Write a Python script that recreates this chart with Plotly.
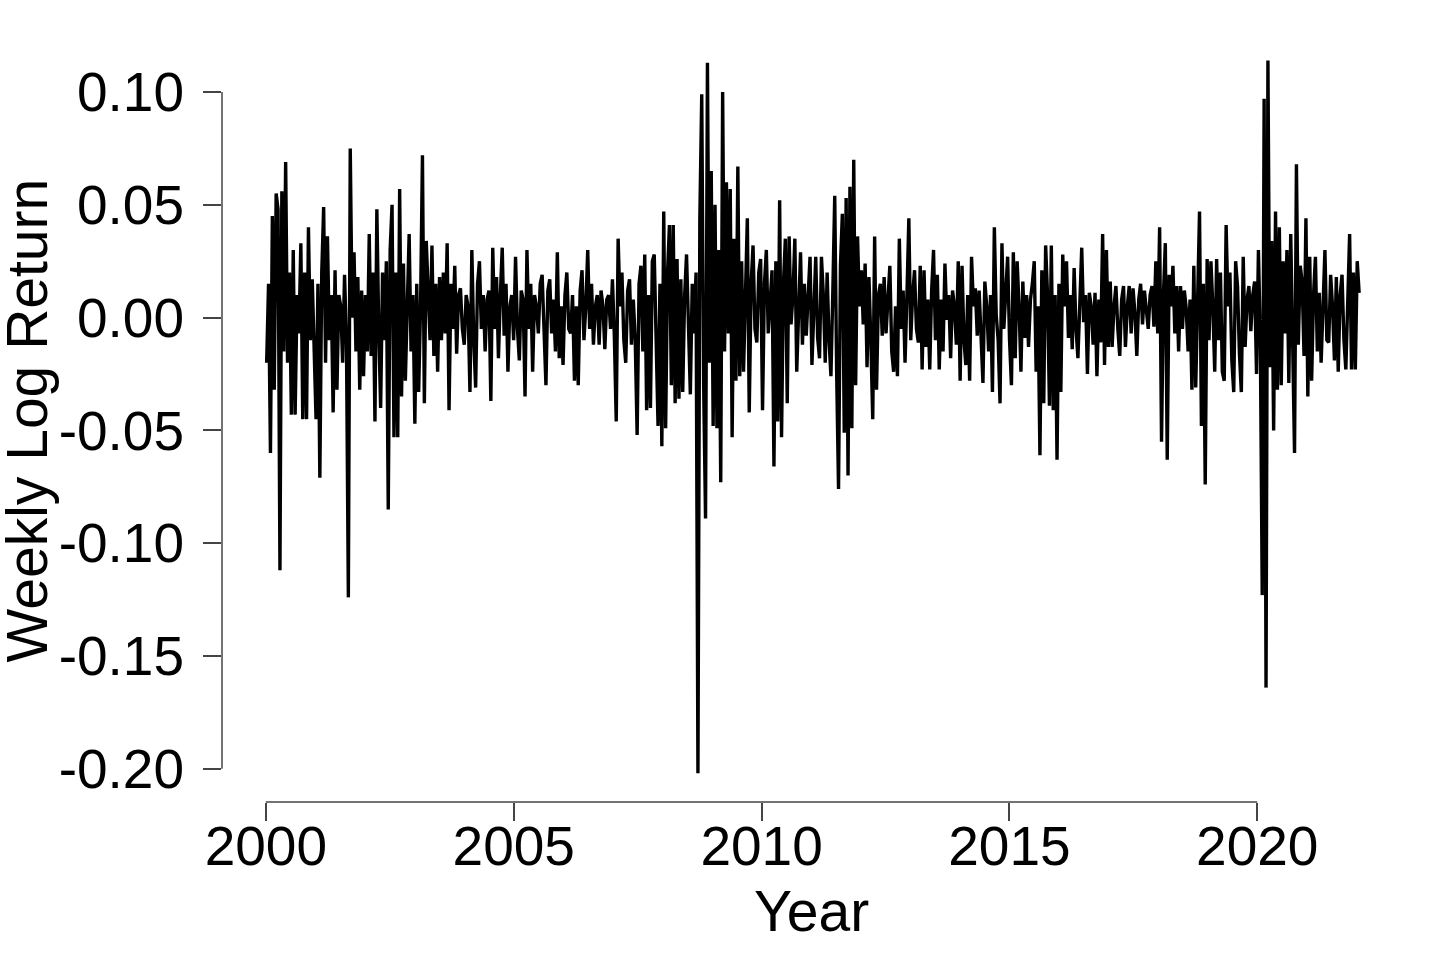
import pandas as pd
import plotly.graph_objects as go

# bi-weekly log returns, one row per half year
returns = [
    # 2000
    -0.020, 0.015, -0.060, 0.045, -0.032, 0.055, 0.048, -0.112, 0.056, -0.015, 0.069, -0.020, 0.020,
    -0.043, 0.030, -0.043, 0.010, -0.007, 0.033, -0.045, 0.020, -0.045, 0.040, -0.010, 0.017, -0.020,
    # 2001
    -0.045, 0.015, -0.071, 0.020, 0.049, -0.020, 0.036, -0.010, 0.010, -0.042, 0.021, -0.032, 0.010,
    0.005, -0.020, 0.019, -0.010, -0.124, 0.075, 0.000, 0.029, -0.015, 0.018, -0.032, 0.012, -0.026,
    # 2002
    0.010, -0.015, 0.037, -0.017, 0.020, -0.046, 0.048, -0.005, -0.040, 0.020, -0.010, 0.025, -0.085,
    0.030, 0.050, -0.053, 0.020, -0.053, 0.057, -0.035, 0.024, -0.028, 0.010, 0.037, -0.015, 0.010,
    # 2003
    -0.047, 0.015, -0.033, 0.005, 0.072, -0.038, 0.034, 0.010, -0.010, 0.032, -0.017, 0.015, -0.024,
    0.018, -0.010, 0.020, -0.007, 0.033, -0.041, 0.015, -0.005, 0.023, -0.016, 0.010, 0.013, -0.005,
    # 2004
    -0.012, 0.010, 0.005, -0.033, 0.030, -0.010, -0.031, 0.015, 0.025, -0.005, 0.010, -0.015, 0.008,
    0.012, -0.037, 0.031, -0.005, 0.018, -0.018, 0.010, 0.031, -0.008, 0.015, -0.024, 0.005, 0.010,
    # 2005
    -0.010, 0.027, -0.005, -0.019, 0.012, 0.008, -0.035, 0.030, -0.005, 0.015, -0.024, 0.010, 0.005,
    -0.007, 0.015, 0.019, -0.010, -0.030, 0.012, 0.017, -0.007, 0.008, -0.015, 0.029, -0.018, 0.005,
    # 2006
    -0.021, 0.010, 0.020, -0.005, -0.007, 0.010, -0.028, 0.005, -0.030, 0.012, 0.021, -0.010, 0.005,
    0.030, -0.005, 0.015, -0.012, 0.005, 0.010, -0.012, 0.012, 0.005, -0.014, 0.008, 0.010, -0.005,
    # 2007
    0.017, -0.008, -0.046, 0.035, 0.005, 0.020, -0.010, -0.020, 0.012, 0.017, -0.012, 0.008, -0.010,
    -0.052, 0.015, 0.023, -0.015, 0.028, -0.041, 0.010, -0.040, 0.025, 0.028, -0.020, -0.048, 0.015,
    # 2008
    -0.057, 0.047, -0.049, 0.020, 0.041, -0.030, 0.041, -0.038, 0.026, -0.036, 0.017, -0.033, 0.010,
    0.028, -0.010, -0.034, 0.015, -0.007, 0.020, -0.202, 0.044, 0.099, -0.030, -0.089, 0.113, -0.020,
    # 2009
    0.065, -0.048, 0.050, -0.049, 0.030, -0.073, 0.100, -0.015, 0.060, -0.007, 0.057, -0.053, 0.035,
    -0.028, 0.067, -0.026, 0.025, -0.024, 0.010, 0.044, -0.042, 0.015, 0.032, -0.005, -0.011, 0.020,
    # 2010
    0.026, -0.041, 0.015, 0.030, -0.007, 0.010, 0.021, -0.066, 0.025, -0.046, 0.052, -0.053, 0.015,
    0.035, -0.038, 0.036, -0.003, 0.010, 0.035, -0.024, 0.005, 0.029, -0.012, 0.015, -0.008, 0.010,
    # 2011
    0.027, -0.021, 0.005, 0.027, -0.009, -0.018, 0.027, 0.010, -0.020, 0.020, -0.010, -0.026, 0.012,
    0.054, -0.024, -0.076, 0.023, 0.046, -0.051, 0.053, -0.070, 0.058, -0.049, 0.070, -0.030, 0.036,
    # 2012
    0.005, 0.021, -0.003, 0.024, -0.022, 0.018, -0.010, -0.045, 0.036, -0.032, 0.010, 0.015, -0.008,
    0.018, -0.007, 0.010, 0.023, -0.015, -0.024, 0.005, -0.026, 0.035, -0.005, 0.012, -0.020, 0.010,
    # 2013
    0.044, -0.010, 0.010, 0.021, -0.005, -0.011, 0.023, -0.023, 0.021, -0.013, 0.008, -0.023, 0.012,
    0.030, -0.010, 0.019, -0.023, 0.008, -0.015, 0.024, -0.001, 0.010, -0.018, 0.012, 0.005, -0.012,
    # 2014
    0.025, -0.028, 0.023, -0.010, -0.021, 0.010, -0.028, 0.027, 0.005, 0.013, -0.008, 0.012, -0.010,
    -0.029, 0.016, 0.005, -0.015, 0.010, -0.033, 0.040, 0.001, -0.010, -0.038, 0.033, -0.005, 0.015,
    # 2015
    0.027, -0.010, -0.030, 0.029, -0.018, 0.025, 0.005, -0.024, 0.016, -0.009, 0.010, -0.013, 0.008,
    0.015, 0.025, -0.024, 0.005, -0.061, 0.021, -0.038, 0.032, 0.010, -0.039, 0.032, -0.041, 0.010,
    # 2016
    -0.063, 0.015, -0.033, 0.028, 0.005, 0.025, -0.009, 0.010, -0.014, 0.022, -0.005, -0.018, 0.012,
    0.031, -0.002, 0.010, -0.025, 0.011, 0.005, -0.012, 0.011, -0.026, 0.008, -0.011, 0.037, -0.021,
    # 2017
    0.030, -0.013, 0.016, -0.013, 0.005, 0.014, -0.005, -0.017, 0.008, 0.014, -0.013, 0.005, 0.014,
    -0.007, 0.013, 0.002, -0.017, 0.008, 0.015, -0.003, 0.012, 0.005, -0.005, 0.010, 0.014, -0.004,
    # 2018
    0.025, -0.007, 0.040, -0.055, 0.010, 0.033, -0.063, 0.019, 0.005, 0.023, -0.007, 0.014, -0.015,
    0.014, -0.005, 0.012, 0.004, -0.015, 0.008, -0.032, 0.023, -0.031, 0.010, 0.047, -0.048, 0.015,
    # 2019
    -0.074, 0.026, -0.010, 0.025, 0.005, -0.024, 0.026, -0.010, 0.020, -0.024, -0.028, 0.041, 0.005,
    0.020, -0.019, -0.033, 0.025, 0.014, -0.016, -0.033, 0.027, -0.013, 0.008, 0.014, -0.006, 0.010,
    # 2020
    0.016, -0.025, 0.030, -0.010, -0.123, 0.097, -0.164, 0.114, -0.022, 0.034, -0.050, 0.047, -0.032,
    0.040, -0.030, 0.025, -0.007, 0.030, -0.029, 0.037, -0.010, -0.060, 0.068, -0.012, 0.023, 0.016,
    # 2021
    -0.017, 0.044, -0.035, 0.027, -0.028, 0.010, 0.027, -0.015, 0.011, -0.020, 0.005, 0.030, -0.010,
    -0.011, 0.019, 0.005, -0.019, 0.018, -0.024, 0.010, 0.019, -0.010, -0.023, 0.015, 0.037, -0.023,
    # 2022
    0.020, -0.023, 0.025, 0.011,
]
dates = pd.date_range("2000-01-07", periods=len(returns), freq="14D")

year_ticks = ["2000-01-01", "2005-01-01", "2010-01-01", "2015-01-01", "2020-01-01"]
year_labels = ["2000", "2005", "2010", "2015", "2020"]
y_ticks = [0.10, 0.05, 0.00, -0.05, -0.10, -0.15, -0.20]
y_labels = ["0.10", "0.05", "0.00", "-0.05", "-0.10", "-0.15", "-0.20"]

FONT = "Liberation Sans, Arial, sans-serif"
AXIS_COLOR = "#444444"

fig = go.Figure()
fig.add_trace(go.Scatter(x=dates, y=returns, mode="lines",
                         line=dict(color="black", width=3.4), showlegend=False))

fig.update_layout(
    width=1435, height=957,
    margin=dict(l=222, r=30, t=32, b=155),
    plot_bgcolor="white", paper_bgcolor="white",
    font=dict(family=FONT, size=55, color="black"),
)
fig.update_xaxes(
    range=["1999-02-12", "2022-12-25"],
    tickvals=year_ticks, ticktext=year_labels,
    ticks="outside", ticklen=18, tickwidth=1.5, tickcolor=AXIS_COLOR,
    ticklabelstandoff=-22,
    showline=False, showgrid=False, zeroline=False, automargin=False,
)
fig.update_yaxes(
    range=[-0.2147, 0.1266],
    tickvals=y_ticks, ticktext=y_labels,
    ticks="outside", ticklen=18, tickwidth=1.5, tickcolor=AXIS_COLOR,
    ticklabelstandoff=8,
    showline=False, showgrid=False, zeroline=False, automargin=False,
)

# axis titles placed by hand so they sit where base R puts them
fig.add_annotation(text="Year", xref="paper", yref="paper", x=0.4987, y=-0.142,
                   xanchor="center", yanchor="middle", showarrow=False,
                   font=dict(size=57))
fig.add_annotation(text="Weekly Log Return", xref="paper", yref="paper", x=-0.1645, y=0.496,
                   xanchor="center", yanchor="middle", textangle=-90, showarrow=False,
                   font=dict(size=57))

# base-R style axis lines that only run between the outer ticks
fig.add_shape(type="line", xref="paper", yref="y", x0=0, x1=0, y0=-0.20, y1=0.10,
              line=dict(color=AXIS_COLOR, width=1.5))
fig.add_shape(type="line", xref="x", yref="paper", x0="2000-01-01", x1="2020-01-01", y0=0, y1=0,
              line=dict(color=AXIS_COLOR, width=1.5))

fig.write_html("out.html", config={"displayModeBar": False},
               post_script="document.body.style.margin='0';")
